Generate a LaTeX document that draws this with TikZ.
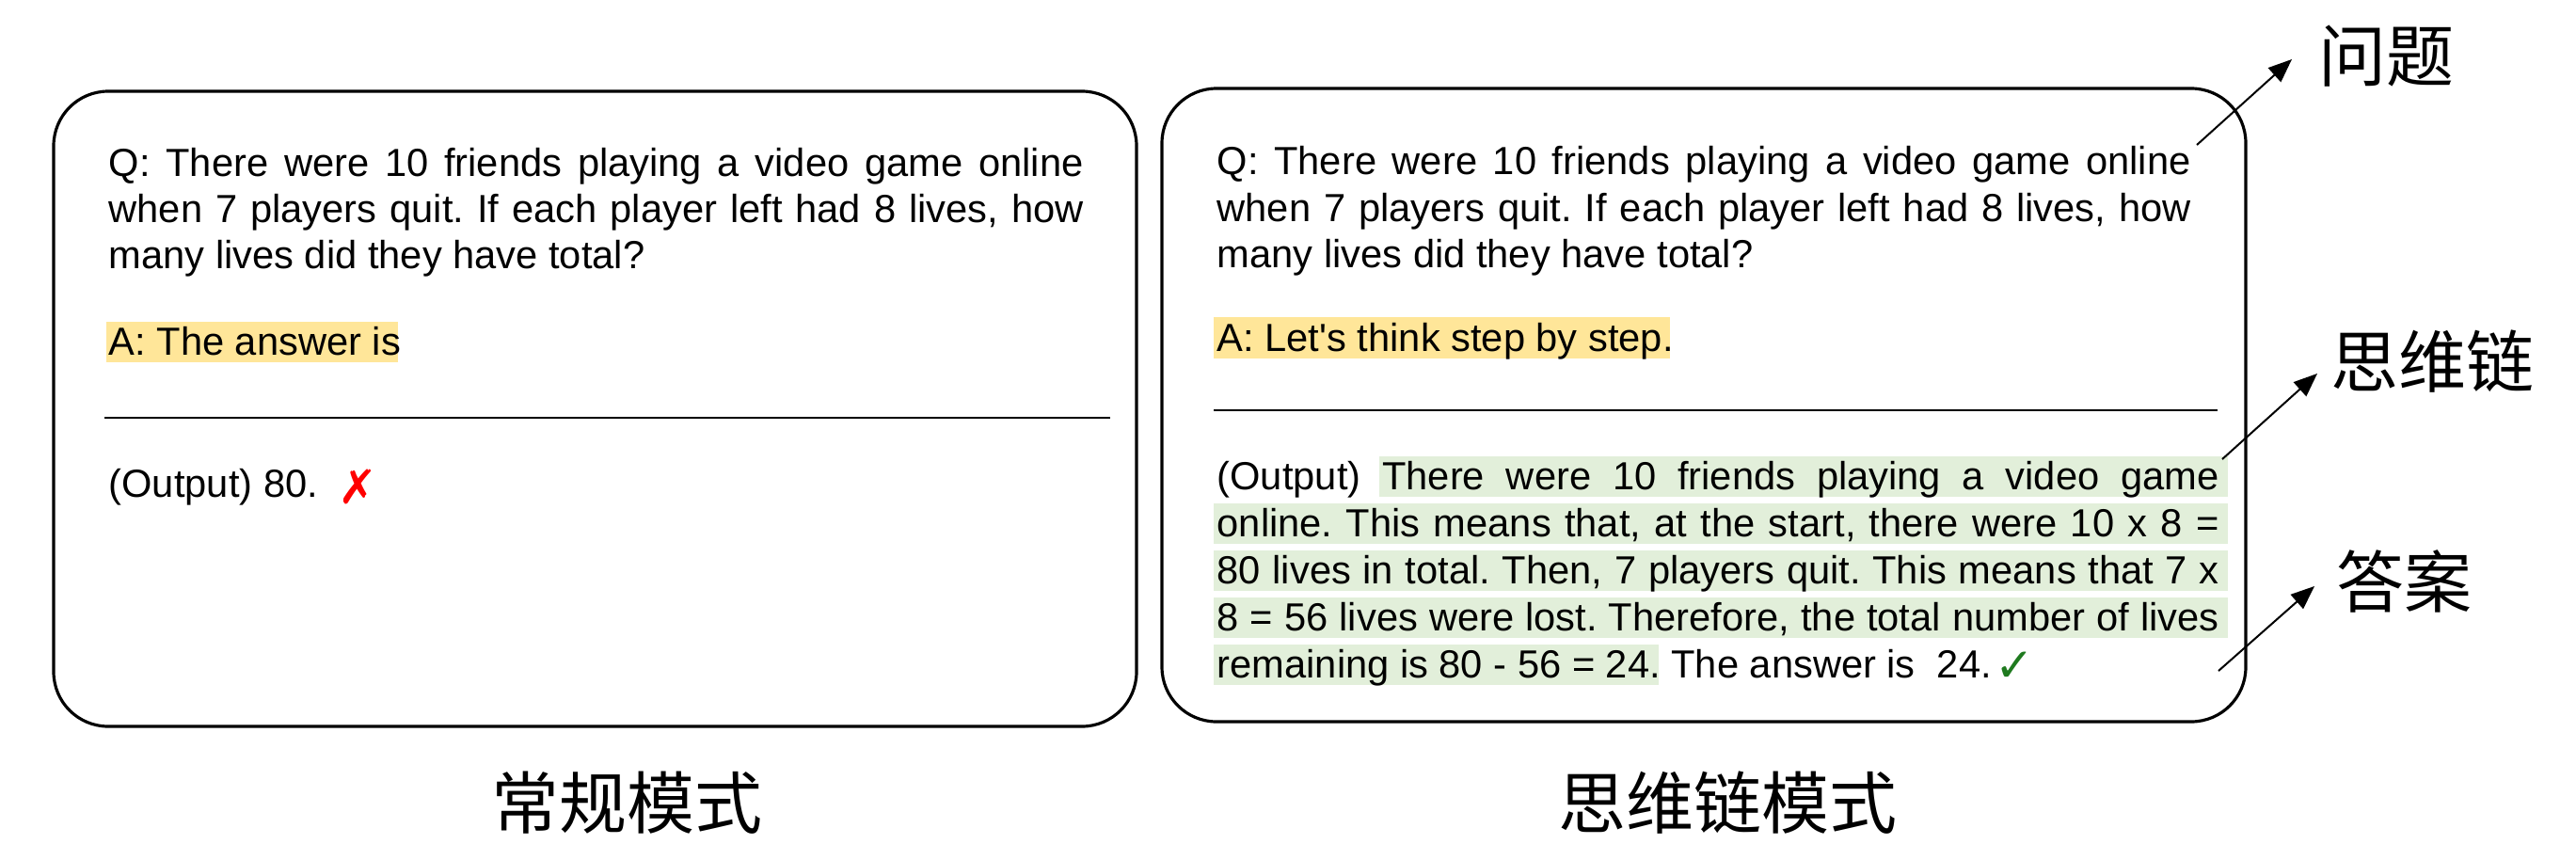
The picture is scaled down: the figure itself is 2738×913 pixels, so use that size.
\documentclass[tikz,border=0pt]{standalone}
\usepackage{fontspec}
\setmainfont{Liberation Sans}[Ligatures=TeXOff]
\newfontfamily\cjk{Noto Sans CJK SC}
\newfontfamily\sym{DejaVu Sans}
\usetikzlibrary{arrows.meta}
\definecolor{hlyellow}{HTML}{FFE699}
\definecolor{hlgreen}{HTML}{E2EFDA}
\definecolor{okgreen}{HTML}{1F7A1F}
\frenchspacing
\tikzset{
  panel/.style={draw=black, line width=0.95pt, rounded corners=17.4pt, inner sep=0pt},
  txt/.style={anchor=base west, inner sep=0pt, font=\fontsize{12.5}{15}\selectfont},
  cn/.style={font=\cjk\fontsize{21.6}{24}\selectfont, inner sep=0pt},
  divider/.style={line width=0.65pt},
  pointer/.style={line width=0.6pt, -{Triangle[length=7.5pt,width=6pt]}},
  verdict/.style={inner sep=0pt, font=\sym\fontsize{15}{15}\selectfont},
}
\begin{document}
\begin{tikzpicture}[x=0.3pt,y=-0.3pt]
\useasboundingbox (0,0) rectangle (2738,913);
% panels
\node[panel, minimum width=345.3pt, minimum height=202.5pt] (lbox) at (632.5,434.5) {};
\node[panel, minimum width=345.6pt, minimum height=201.9pt] (rbox) at (1811,430.5) {};
% highlights
\fill[hlyellow] (113,342) rectangle (423,385);
\fill[hlyellow] (1290,337) rectangle (1775,381);
\fill[hlgreen] (1466,485) rectangle (2368,528);
\fill[hlgreen] (1290,535) rectangle (2368,578);
\fill[hlgreen] (1290,585) rectangle (2368,628);
\fill[hlgreen] (1290,635) rectangle (2368,678);
\fill[hlgreen] (1290,685) rectangle (1763,728);
% left panel text
\node[txt] (lq1) at (115,187) {\makebox[310.8pt][s]{Q: There were 10 friends playing a video game online}};
\node[txt] (lq2) at (115,236) {\makebox[310.8pt][s]{when 7 players quit. If each player left had 8 lives, how}};
\node[txt] (lq3) at (115,285) {many lives did they have total?};
\node[txt] (la) at (115,377) {A: The answer is};
\draw[divider] (111,444) -- (1180,444);
\node[txt] (lo) at (115,528) {(Output) 80.};
\node[verdict, text=red] (lx) at (380,517) {✗};
% right panel text
\node[txt] (rq1) at (1293,185) {\makebox[310.5pt][s]{Q: There were 10 friends playing a video game online}};
\node[txt] (rq2) at (1293,235) {\makebox[310.5pt][s]{when 7 players quit. If each player left had 8 lives, how}};
\node[txt] (rq3) at (1293,284) {many lives did they have total?};
\node[txt] (ra) at (1293,373) {A: Let's think step by step.};
\draw[divider] (1290,436) -- (2357,436);
\node[txt] (ro1) at (1293,520) {\makebox[319.5pt][s]{(Output) There were 10 friends playing a video game}};
\node[txt] (ro2) at (1293,570) {\makebox[319.5pt][s]{online. This means that, at the start, there were 10 x 8 =}};
\node[txt] (ro3) at (1293,620) {\makebox[319.5pt][s]{80 lives in total. Then, 7 players quit. This means that 7 x}};
\node[txt] (ro4) at (1293,670) {\makebox[319.5pt][s]{8 = 56 lives were lost. Therefore, the total number of lives}};
\node[txt] (ro5) at (1293,720) {remaining is 80 - 56 = 24. The answer is\ \ 24.};
\node[verdict, text=okgreen] (rc) at (2141,709) {✓};
% side labels
\node[cn] (lblq) at (2536,60) {问题};
\node[cn] (lblc) at (2585,384) {思维链};
\node[cn] (lbla) at (2555,618) {答案};
% bottom captions
\node[cn] (cap1) at (666,853) {常规模式};
\node[cn] (cap2) at (1836,853) {思维链模式};
% pointers
\coordinate (t1) at (2335,154); \coordinate (h1) at (2436,63);
\coordinate (t2) at (2362,488); \coordinate (h2) at (2463,397);
\coordinate (t3) at (2358,713); \coordinate (h3) at (2460,623);
\draw[pointer] (t1) -- (h1);
\draw[pointer] (t2) -- (h2);
\draw[pointer] (t3) -- (h3);
\end{tikzpicture}
\end{document}
